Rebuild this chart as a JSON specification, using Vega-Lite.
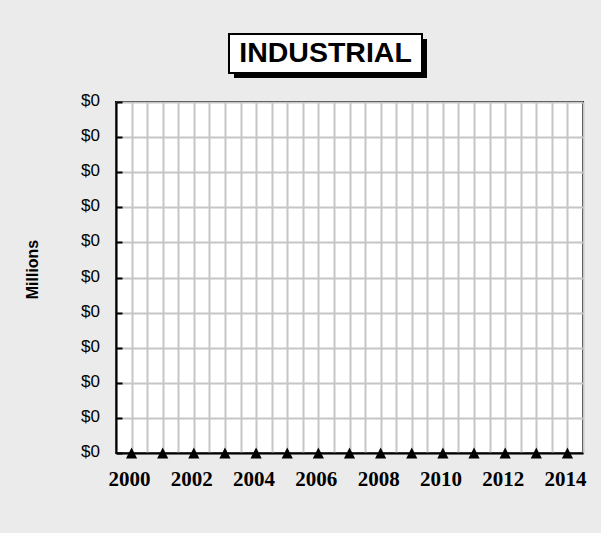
{
  "$schema": "https://vega.github.io/schema/vega-lite/v6.json",
  "width": 467,
  "height": 351,
  "autosize": {"type": "none"},
  "padding": {"left": 116, "top": 102, "right": 18, "bottom": 80},
  "background": "#EBEBEB",
  "config": {"view": {"fill": "white", "stroke": "black", "strokeWidth": 2}},
  "resolve": {"axis": {"x": "independent", "y": "independent"}},
  "layer": [
    {
      "data": {"values": [
        {"year": 2000, "value": 0}, {"year": 2001, "value": 0}, {"year": 2002, "value": 0},
        {"year": 2003, "value": 0}, {"year": 2004, "value": 0}, {"year": 2005, "value": 0},
        {"year": 2006, "value": 0}, {"year": 2007, "value": 0}, {"year": 2008, "value": 0},
        {"year": 2009, "value": 0}, {"year": 2010, "value": 0}, {"year": 2011, "value": 0},
        {"year": 2012, "value": 0}, {"year": 2013, "value": 0}, {"year": 2014, "value": 0}
      ]},
      "mark": {"type": "point", "shape": "M0,-1L-1,1L1,1Z", "size": 125, "filled": true, "color": "black", "opacity": 1, "clip": false},
      "encoding": {
        "x": {
          "field": "year", "type": "quantitative",
          "scale": {"domain": [1999.5, 2014.5], "nice": false, "zero": false},
          "axis": {
            "title": null,
            "values": [1999.5, 2000, 2000.5, 2001, 2001.5, 2002, 2002.5, 2003, 2003.5, 2004, 2004.5, 2005, 2005.5, 2006, 2006.5, 2007, 2007.5, 2008, 2008.5, 2009, 2009.5, 2010, 2010.5, 2011, 2011.5, 2012, 2012.5, 2013, 2013.5, 2014, 2014.5],
            "labelExpr": "datum.value % 2 === 0 ? format(datum.value, 'd') : ''",
            "ticks": false,
            "grid": true, "gridColor": "#C6C6C6", "gridWidth": 2,
            "domainColor": "black", "domainWidth": 2,
            "labelFont": "Liberation Serif", "labelFontSize": 21, "labelFontWeight": "bold", "labelColor": "black",
            "labelBaseline": "alphabetic", "labelPadding": 32, "labelOffset": -2.5,
            "labelFlush": false, "labelOverlap": false
          }
        },
        "y": {
          "field": "value", "type": "quantitative",
          "scale": {"domain": [0, 1], "nice": false, "zero": false},
          "axis": {
            "title": "Millions",
            "values": [0, 0.1, 0.2, 0.3, 0.4, 0.5, 0.6, 0.7, 0.8, 0.9, 1],
            "labelExpr": "'$0'",
            "ticks": true, "tickSize": -6, "tickColor": "black", "tickWidth": 2,
            "grid": true, "gridColor": "#C6C6C6", "gridWidth": 2,
            "domainColor": "black", "domainWidth": 2,
            "labelFont": "Liberation Sans", "labelFontSize": 17, "labelColor": "black",
            "labelPadding": 22.5, "labelOffset": -1.5, "labelFlush": false, "labelOverlap": false,
            "titleFont": "Liberation Sans", "titleFontSize": 16, "titleFontWeight": "bold", "titleColor": "black",
            "titleAngle": -90, "titleAlign": "center", "titleBaseline": "middle",
            "titleX": -84, "titleY": 167
          }
        }
      }
    },
    {
      "data": {"values": [{"label": "INDUSTRIAL"}]},
      "mark": {"type": "point", "shape": "M-0.915,-0.145L1.015,-0.145L1.015,0.245L-0.915,0.245Z", "size": 40000, "filled": true, "fill": "black", "strokeWidth": 0, "opacity": 1, "clip": false},
      "encoding": {
        "x": {"datum": 2006.229, "type": "quantitative", "axis": null},
        "y": {"datum": 1.13818, "type": "quantitative", "axis": null}
      }
    },
    {
      "data": {"values": [{"label": "INDUSTRIAL"}]},
      "mark": {"type": "point", "shape": "M-0.965,-0.195L0.965,-0.195L0.965,0.195L-0.965,0.195Z", "size": 40000, "filled": true, "fill": "white", "stroke": "black", "strokeWidth": 2, "opacity": 1, "clip": false},
      "encoding": {
        "x": {"datum": 2006.229, "type": "quantitative", "axis": null},
        "y": {"datum": 1.13818, "type": "quantitative", "axis": null}
      }
    },
    {
      "data": {"values": [{"label": "INDUSTRIAL"}]},
      "mark": {"type": "text", "font": "Liberation Sans", "fontSize": 28.5, "fontWeight": "bold", "color": "black", "align": "center", "baseline": "alphabetic", "clip": false},
      "encoding": {
        "x": {"datum": 2006.229, "type": "quantitative", "axis": null},
        "y": {"datum": 1.11396, "type": "quantitative", "axis": null},
        "text": {"field": "label", "type": "nominal"}
      }
    }
  ]
}
